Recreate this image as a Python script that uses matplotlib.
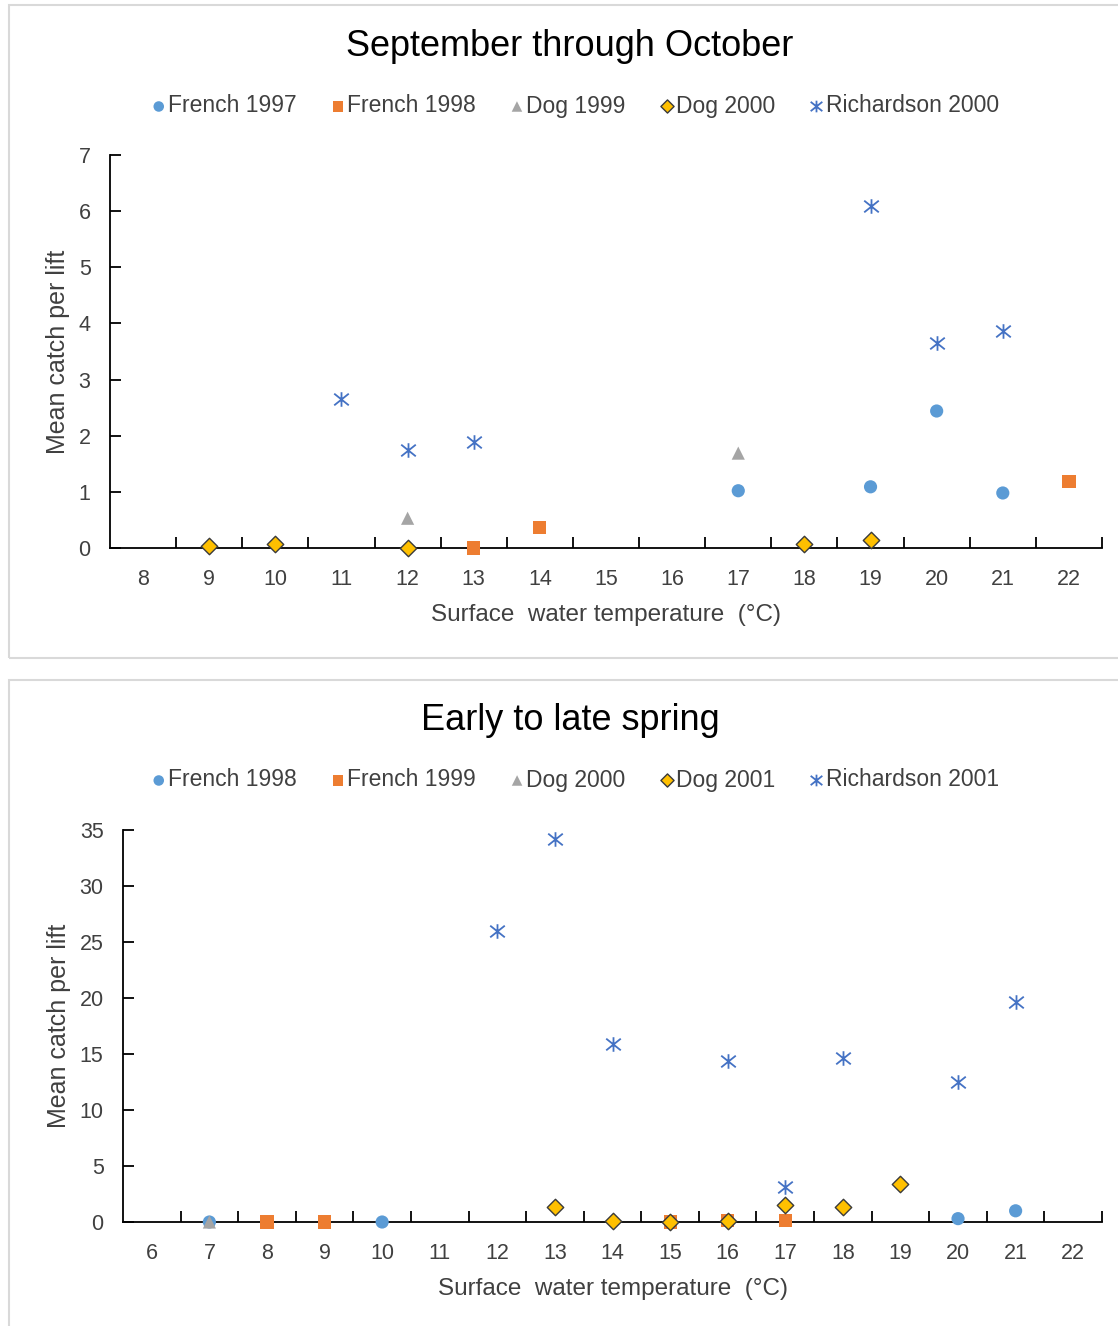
import matplotlib
matplotlib.use("Agg")
import matplotlib.pyplot as plt
from matplotlib.patches import Rectangle
from matplotlib.path import Path
from matplotlib.ticker import FixedLocator, NullFormatter, FixedFormatter

plt.rcParams['font.family'] = ['Liberation Sans', 'DejaVu Sans']

# ---- Top panel data: September through October ----
top_title = "September through October"
top_names = ["French 1997", "French 1998", "Dog 1999", "Dog 2000", "Richardson 2000"]
top_french97_x = [17, 19, 20, 21]
top_french97_y = [1.02, 1.09, 2.44, 0.98]
top_french98_x = [13, 14, 22]
top_french98_y = [0.0, 0.37, 1.19]
top_dog99_x = [12, 17]
top_dog99_y = [0.53, 1.69]
top_dog00_x = [9, 10, 12, 18, 19]
top_dog00_y = [0.04, 0.07, 0.0, 0.07, 0.14]
top_rich00_x = [11, 12, 13, 19, 20, 21]
top_rich00_y = [2.66, 1.75, 1.89, 6.1, 3.65, 3.87]
top_xticks = list(range(8, 23))
top_yticks = list(range(0, 8))

# ---- Bottom panel data: Early to late spring ----
bot_title = "Early to late spring"
bot_names = ["French 1998", "French 1999", "Dog 2000", "Dog 2001", "Richardson 2001"]
bot_french98_x = [7, 10, 20, 21]
bot_french98_y = [0.0, 0.0, 0.3, 1.0]
bot_french99_x = [8, 9, 15, 16, 17]
bot_french99_y = [0.0, 0.0, 0.0, 0.1, 0.1]
bot_dog00_x = [7]
bot_dog00_y = [0.0]
bot_dog01_x = [13, 14, 15, 16, 17, 18, 19]
bot_dog01_y = [1.34, 0.1, 0.0, 0.1, 1.5, 1.3, 3.4]
bot_rich01_x = [12, 13, 14, 16, 17, 18, 20, 21]
bot_rich01_y = [26.0, 34.2, 15.9, 14.4, 3.1, 14.6, 12.5, 19.6]
bot_xticks = list(range(6, 23))
bot_yticks = list(range(0, 36, 5))

xlabel = "Surface  water temperature  (\u00b0C)"
ylabel = "Mean catch per lift"

W, H = 1118, 1326
fig = plt.figure(figsize=(W / 100, H / 100), dpi=100)

def fx(px):
    return px / W

def fy(py):
    return 1 - py / H

# panel borders
for (x0, y0, x1, y1) in [(9, 5, 1130, 658), (9, 680, 1130, 1340)]:
    fig.patches.append(Rectangle((fx(x0), fy(y1)), fx(x1) - fx(x0), fy(y0) - fy(y1),
                                 transform=fig.transFigure, fill=False,
                                 edgecolor="#D9D9D9", linewidth=1.5, zorder=0))

C_BLUE = "#5B9BD5"
C_ORANGE = "#ED7D31"
C_GRAY = "#A5A5A5"
C_GOLD = "#FFC000"
C_STAR = "#4472C4"
STAR = Path([(0, -1), (0, 1), (-1, -0.8), (1, 0.8), (-1, 0.8), (1, -0.8)],
            [Path.MOVETO, Path.LINETO, Path.MOVETO, Path.LINETO, Path.MOVETO, Path.LINETO])


def draw_panel(rect, xlim, ylim, xticks, yticks, series, names, title, title_y, leg_y):
    l, t, r, b = rect
    ax = fig.add_axes([fx(l), fy(b), fx(r) - fx(l), fy(t) - fy(b)])
    handles = []
    for (xs, ys, kind), name in zip(series, names):
        if kind == "circle":
            h = ax.scatter(xs, ys, marker="o", s=90, color=C_BLUE, edgecolors="none", zorder=3, clip_on=False)
        elif kind == "square":
            h = ax.scatter(xs, ys, marker="s", s=90, color=C_ORANGE, edgecolors="none", zorder=3, clip_on=False)
        elif kind == "triangle":
            h = ax.scatter(xs, ys, marker="^", s=90, color=C_GRAY, edgecolors="none", zorder=3, clip_on=False)
        elif kind == "diamond":
            h = ax.scatter(xs, ys, marker="D", s=70, color=C_GOLD, edgecolors="#3A3A3A", linewidths=1.0, zorder=4, clip_on=False)
        else:
            h = ax.scatter(xs, ys, marker=STAR, s=110, color=C_STAR, linewidths=1.3, zorder=4, clip_on=False)
        handles.append(h)
    ax.set_xlim(*xlim)
    ax.set_ylim(*ylim)
    for s in ["top", "right"]:
        ax.spines[s].set_visible(False)
    for s in ["left", "bottom"]:
        ax.spines[s].set_linewidth(1.3)
        ax.spines[s].set_color("black")
    # x: tick marks at half-integers, labels at integers
    halfs = [v + 0.5 for v in range(int(xlim[0] + 0.5), int(xlim[1] + 0.5))]
    ax.xaxis.set_major_locator(FixedLocator(halfs))
    ax.xaxis.set_major_formatter(NullFormatter())
    ax.xaxis.set_minor_locator(FixedLocator(xticks))
    ax.xaxis.set_minor_formatter(FixedFormatter([str(v) for v in xticks]))
    ax.tick_params(axis="x", which="major", direction="in", length=8, width=1.3, color="black")
    ax.tick_params(axis="x", which="minor", length=0, pad=15, labelsize=15.5, labelcolor="#404040")
    ax.set_yticks(yticks)
    ax.set_yticklabels([str(v) for v in yticks])
    ax.tick_params(axis="y", direction="in", length=8, width=1.3, pad=14, labelsize=15.5, labelcolor="#404040")
    ax.set_xlabel(xlabel, fontsize=17.5, color="#404040", labelpad=10)
    ax.set_ylabel(ylabel, fontsize=18, color="#404040", labelpad=6)
    fig.text(fx(570), fy(title_y), title, fontsize=26, ha="center", va="center", color="black")
    leg = fig.legend(handles, names, loc="center", bbox_to_anchor=(fx(573), fy(leg_y)),
                     ncol=5, frameon=False, fontsize=16.5, handletextpad=-0.1,
                     columnspacing=1.3, markerscale=0.8, handlelength=1.0)
    for txt in leg.get_texts():
        txt.set_color("#404040")
    return ax

draw_panel((110, 155, 1102, 548), (7.5, 22.5), (0, 7), top_xticks, top_yticks,
           [(top_french97_x, top_french97_y, "circle"),
            (top_french98_x, top_french98_y, "square"),
            (top_dog99_x, top_dog99_y, "triangle"),
            (top_dog00_x, top_dog00_y, "diamond"),
            (top_rich00_x, top_rich00_y, "star")],
           top_names, top_title, 47, 106)

draw_panel((123, 830, 1102, 1222), (5.5, 22.5), (0, 35), bot_xticks, bot_yticks,
           [(bot_french98_x, bot_french98_y, "circle"),
            (bot_french99_x, bot_french99_y, "square"),
            (bot_dog00_x, bot_dog00_y, "triangle"),
            (bot_dog01_x, bot_dog01_y, "diamond"),
            (bot_rich01_x, bot_rich01_y, "star")],
           bot_names, bot_title, 721, 780)

fig.savefig("out.png", dpi=100)
